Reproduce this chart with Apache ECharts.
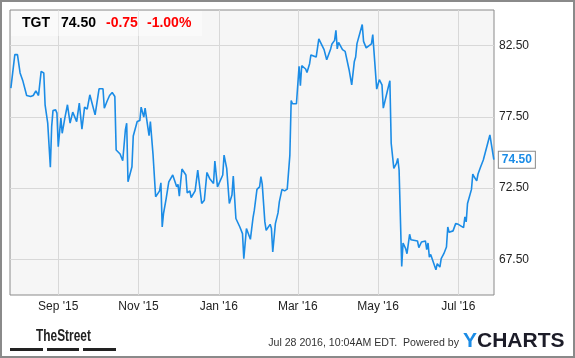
<!DOCTYPE html>
<html>
<head>
<meta charset="utf-8">
<script src="https://cdn.jsdelivr.net/npm/echarts@6/dist/echarts.min.js"></script>
<style>
html,body{margin:0;padding:0;background:#fff;}
#chart{width:575px;height:358px;}
</style>
</head>
<body>
<div id="chart"></div>
<script>
// ---- data ----
const ticker = 'TGT';
const lastPrice = '74.50';
const changeAbs = '-0.75';
const changePct = '-1.00%';
const timestampText = 'Jul 28 2016, 10:04AM EDT.  Powered by';

const dates = [
'2015-07-27','2015-07-30','2015-08-01','2015-08-03','2015-08-05','2015-08-06','2015-08-08','2015-08-11','2015-08-12','2015-08-13',
'2015-08-15','2015-08-17','2015-08-19','2015-08-20','2015-08-21','2015-08-22','2015-08-24','2015-08-26','2015-08-27','2015-08-28',
'2015-08-30','2015-08-31','2015-09-01','2015-09-03','2015-09-04','2015-09-06','2015-09-08','2015-09-10','2015-09-11','2015-09-12',
'2015-09-15','2015-09-17','2015-09-19','2015-09-21','2015-09-23','2015-09-25','2015-09-26','2015-09-29','2015-10-02','2015-10-05',
'2015-10-06','2015-10-08','2015-10-10','2015-10-12','2015-10-14','2015-10-15','2015-10-18','2015-10-20','2015-10-22','2015-10-23',
'2015-10-24','2015-10-25','2015-10-27','2015-10-28','2015-10-29','2015-10-31','2015-11-02','2015-11-03','2015-11-05','2015-11-06',
'2015-11-08','2015-11-09','2015-11-10','2015-11-12','2015-11-13','2015-11-14','2015-11-15','2015-11-17','2015-11-18','2015-11-19',
'2015-11-20','2015-11-22','2015-11-24','2015-11-27','2015-11-30','2015-12-01','2015-12-02','2015-12-04','2015-12-07','2015-12-08',
'2015-12-10','2015-12-11','2015-12-14','2015-12-16','2015-12-19','2015-12-21','2015-12-23','2015-12-25','2015-12-28','2015-12-29',
'2015-12-31','2016-01-04','2016-01-05','2016-01-07','2016-01-09','2016-01-11','2016-01-12','2016-01-14','2016-01-17','2016-01-19',
'2016-01-20','2016-01-22','2016-01-25','2016-01-27','2016-01-28','2016-01-30','2016-02-01','2016-02-02','2016-02-03','2016-02-05',
'2016-02-06','2016-02-09','2016-02-10','2016-02-11','2016-02-13','2016-02-15','2016-02-16','2016-02-18','2016-02-20','2016-02-22',
'2016-02-24','2016-02-25','2016-02-26','2016-02-29','2016-03-02','2016-03-03','2016-03-04','2016-03-07','2016-03-08','2016-03-10',
'2016-03-11','2016-03-15','2016-03-17','2016-03-21','2016-03-23','2016-03-26','2016-03-27','2016-03-29','2016-03-30','2016-03-31',
'2016-04-01','2016-04-04','2016-04-06','2016-04-09','2016-04-11','2016-04-13','2016-04-14','2016-04-15','2016-04-19','2016-04-20',
'2016-04-22','2016-04-26','2016-04-27','2016-04-30','2016-05-02','2016-05-04','2016-05-05','2016-05-08','2016-05-10','2016-05-11',
'2016-05-12','2016-05-13','2016-05-15','2016-05-16','2016-05-17','2016-05-19','2016-05-20','2016-05-22','2016-05-23','2016-05-25',
'2016-05-26','2016-05-31','2016-06-01','2016-06-03','2016-06-06','2016-06-07','2016-06-08','2016-06-09','2016-06-10','2016-06-14',
'2016-06-15','2016-06-17','2016-06-18','2016-06-20','2016-06-22','2016-06-23','2016-06-24','2016-06-27','2016-06-29','2016-07-01',
'2016-07-05','2016-07-06','2016-07-07','2016-07-08','2016-07-11','2016-07-12','2016-07-13','2016-07-15','2016-07-16','2016-07-18',
'2016-07-20','2016-07-21','2016-07-25','2016-07-26','2016-07-28'
];

const prices = [
79.52,81.87,81.87,80.58,80.06,79.99,79.00,78.93,78.86,79.00,
79.33,79.00,80.69,80.81,80.58,78.35,77.06,73.96,76.82,77.94,
77.99,77.76,75.41,77.41,76.35,77.41,78.35,77.06,77.01,77.83,
77.17,78.46,76.63,78.18,78.04,79.05,79.00,77.64,79.47,79.47,
78.11,78.58,79.00,79.21,78.93,75.18,74.89,74.42,76.58,77.06,
72.94,73.30,74.00,76.16,76.23,77.17,77.24,78.18,77.48,78.11,
76.82,76.18,77.17,74.89,74.89,71.89,72.01,72.31,72.87,69.77,
70.72,71.77,72.94,73.42,72.59,72.76,71.94,73.84,73.42,72.17,
72.31,71.84,72.31,73.77,71.42,71.65,73.60,73.18,72.83,74.40,
72.59,73.42,74.82,73.89,71.42,72.01,73.35,70.37,69.77,69.31,
67.55,69.66,68.91,70.41,70.95,72.41,72.59,73.30,72.78,70.13,
69.54,69.96,69.66,68.02,70.01,70.76,71.53,72.41,72.31,72.43,
74.82,78.65,78.42,78.42,81.05,79.68,81.09,80.86,80.62,81.23,
81.85,81.70,82.97,82.22,81.51,82.27,82.62,82.87,83.58,82.27,
82.73,82.22,82.10,80.81,79.75,81.39,81.70,82.64,83.98,82.80,
82.34,82.62,83.27,79.45,80.11,79.75,78.11,79.28,80.04,75.65,
75.60,73.89,74.24,74.59,73.77,67.01,68.65,68.25,67.90,69.26,
68.88,68.79,68.32,68.72,68.79,68.18,68.65,67.66,67.85,66.77,
67.20,66.96,67.55,67.90,68.37,69.77,69.40,69.50,70.01,69.96,
69.73,70.48,70.13,71.42,72.41,73.49,73.30,73.01,73.49,74.00,
74.47,74.35,76.23,76.23,74.50
];

const yTickValues = [67.5, 72.5, 77.5, 82.5];
const xTickDates = ['2015-09-01','2015-11-01','2016-01-01','2016-03-01','2016-05-01','2016-07-01'];
const xTickLabels = ["Sep '15", "Nov '15", "Jan '16", "Mar '16", "May '16", "Jul '16"];

// ---- build ----
function toTs(s) {
  const p = s.split('-').map(Number);
  return new Date(p[0], p[1] - 1, p[2]).getTime();
}
const xTickTs = xTickDates.map(toTs);
const seriesData = dates.map((d, i) => [toTs(d), prices[i]]);
const xMin = new Date(2015, 6, 26, 8).getTime();
const xMax = new Date(2016, 6, 28, 3).getTime();

const chart = echarts.init(document.getElementById('chart'), null, {renderer: 'canvas'});
const FONT = 'Liberation Sans, Arial, sans-serif';
const BLUE = '#1b8ce6';

chart.setOption({
  animation: false,
  backgroundColor: '#ffffff',
  grid: {
    left: 10, top: 10, right: 81, bottom: 63,
    show: true, backgroundColor: '#f6f6f6', borderColor: '#8a8a8a', borderWidth: 1,
    containLabel: false
  },
  xAxis: {
    type: 'value', min: xMin, max: xMax,
    axisLine: {show: false},
    axisTick: {show: false, customValues: xTickTs},
    splitLine: {show: true, lineStyle: {color: '#d8d8d8', width: 1}},
    axisLabel: {
      customValues: xTickTs, margin: 6, color: '#222', fontSize: 12, fontFamily: FONT,
      hideOverlap: false, showMinLabel: true, showMaxLabel: true,
      formatter: function (v) { const i = xTickTs.indexOf(+v); return i >= 0 ? xTickLabels[i] : ''; }
    }
  },
  yAxis: {
    type: 'value', position: 'right', min: 65, max: 85,
    axisLine: {show: false},
    axisTick: {show: false, customValues: yTickValues},
    splitLine: {show: true, lineStyle: {color: '#d8d8d8', width: 1}},
    axisLabel: {
      customValues: yTickValues, margin: 5, color: '#222', fontSize: 12, fontFamily: FONT,
      formatter: function (v) { return Number(v).toFixed(2); }
    }
  },
  series: [{
    type: 'line',
    data: seriesData,
    showSymbol: false,
    symbol: 'none',
    lineStyle: {color: BLUE, width: 1.6},
    endLabel: {
      show: true,
      distance: 5,
      formatter: function () { return lastPrice; },
      color: BLUE, fontWeight: 'bold', fontSize: 12, fontFamily: FONT,
      backgroundColor: '#ffffff', borderColor: '#8a8a8a', borderWidth: 1,
      padding: [2, 3, 1, 3], lineHeight: 13
    }
  }],
  graphic: [
    {type: 'rect', z: 10, silent: true, shape: {x: 1, y: 1, width: 573, height: 356},
     style: {fill: 'none', stroke: '#8a8a8a', lineWidth: 2}},
    {type: 'rect', z: 5, silent: true, shape: {x: 11, y: 11, width: 191, height: 25},
     style: {fill: 'rgba(255,255,255,0.45)'}},
    {type: 'text', z: 6, x: 22, y: 23, style: {text: ticker, font: 'bold 14px ' + FONT, fill: '#000', textVerticalAlign: 'middle'}},
    {type: 'text', z: 6, x: 61, y: 23, style: {text: lastPrice, font: 'bold 14px ' + FONT, fill: '#000', textVerticalAlign: 'middle'}},
    {type: 'text', z: 6, x: 106, y: 23, style: {text: changeAbs, font: 'bold 14px ' + FONT, fill: '#ff0000', textVerticalAlign: 'middle'}},
    {type: 'text', z: 6, x: 147, y: 23, style: {text: changePct, font: 'bold 14px ' + FONT, fill: '#ff0000', textVerticalAlign: 'middle'}},
    {type: 'text', z: 6, x: 36, y: 336, scaleX: 0.7, style: {text: 'TheStreet', font: 'bold 17px ' + FONT, fill: '#222', textVerticalAlign: 'middle'}},
    {type: 'rect', z: 6, shape: {x: 10, y: 348, width: 33, height: 3}, style: {fill: '#222'}},
    {type: 'rect', z: 6, shape: {x: 47, y: 348, width: 32, height: 3}, style: {fill: '#222'}},
    {type: 'rect', z: 6, shape: {x: 83, y: 348, width: 33, height: 3}, style: {fill: '#222'}},
    {type: 'text', z: 6, x: 459, y: 343, style: {text: timestampText, font: '10.6px ' + FONT, fill: '#333', textVerticalAlign: 'middle', textAlign: 'right'}},
    {type: 'text', z: 6, x: 463, y: 341, style: {
      text: '{y|Y}{c|CHARTS}', textVerticalAlign: 'middle',
      rich: {y: {font: 'bold 21px ' + FONT, fill: '#1b8ce6'}, c: {font: 'bold 21px ' + FONT, fill: '#1c1c28'}}
    }}
  ]
});
</script>
</body>
</html>
